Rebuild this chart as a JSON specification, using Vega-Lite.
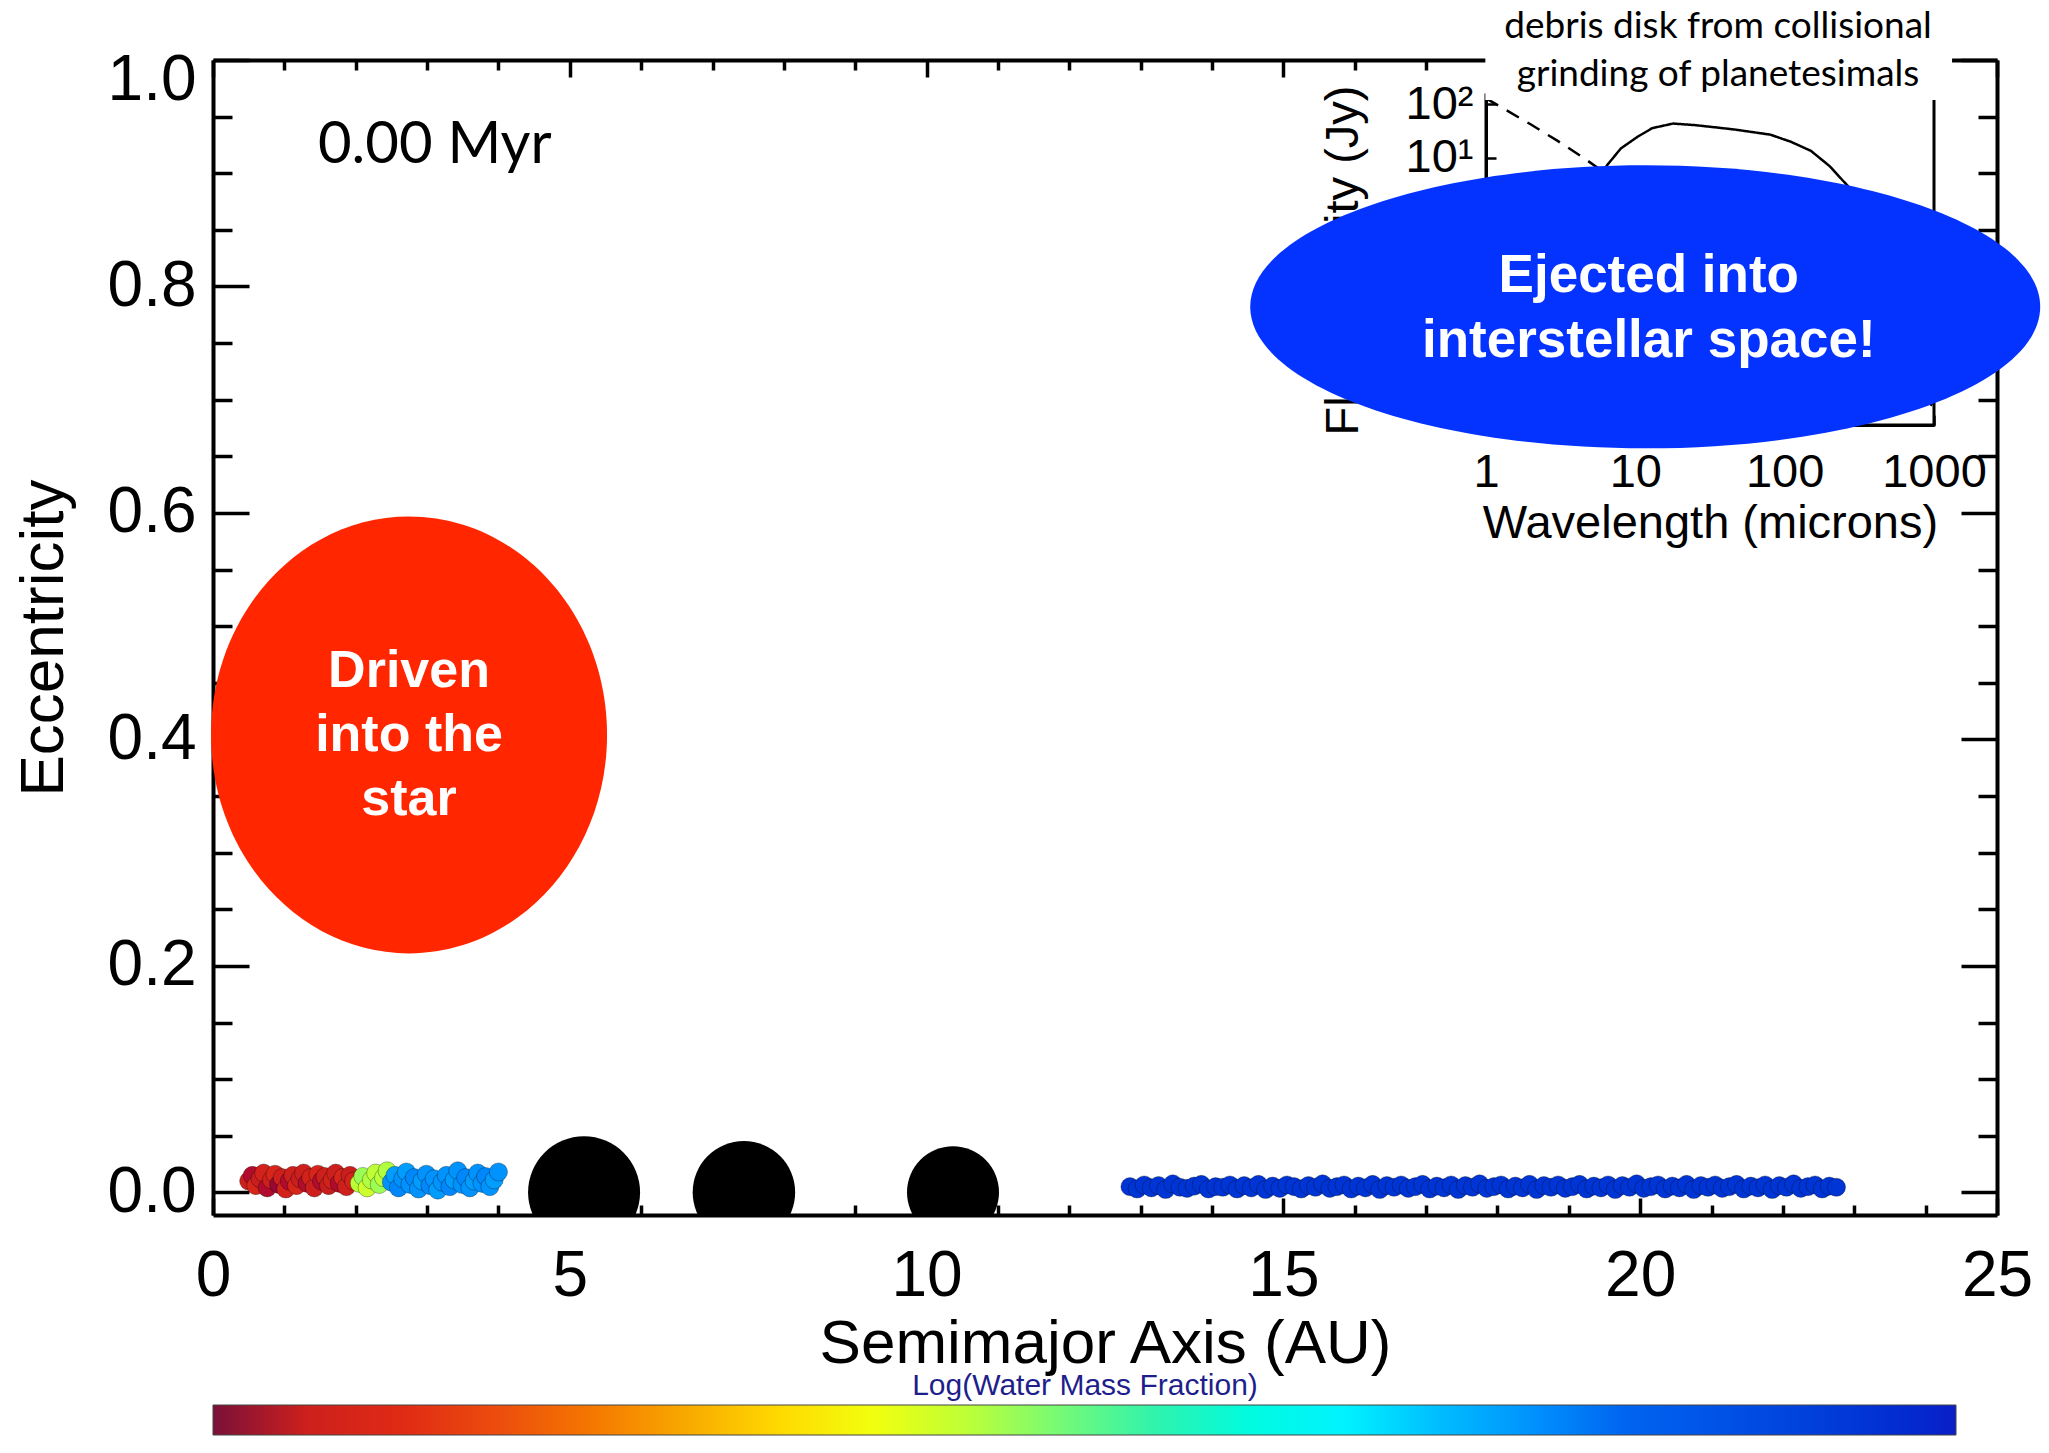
{
  "$schema": "https://vega.github.io/schema/vega-lite/v6.json",
  "width": 1784,
  "height": 1155,
  "autosize": {"type": "none"},
  "padding": {"left": 213, "top": 60, "right": 52, "bottom": 238},
  "background": "white",
  "config": {
    "view": {"stroke": null},
    "axis": {"grid": false, "domainColor": "black", "tickColor": "black", "labelColor": "black", "titleColor": "black", "labelFont": "Liberation Sans", "titleFont": "Liberation Sans", "titleFontWeight": "normal", "labelOverlap": false}
  },
  "datasets": {
    "dots": [
      {"a":0.50,"e":0.010,"w":-4.8},{"a":0.55,"e":0.015,"w":-4.9},{"a":0.60,"e":0.006,"w":-4.7},{"a":0.66,"e":0.012,"w":-4.85},{"a":0.71,"e":0.017,"w":-4.75},{"a":0.76,"e":0.004,"w":-4.9},{"a":0.82,"e":0.011,"w":-4.8},{"a":0.87,"e":0.016,"w":-4.7},{"a":0.92,"e":0.007,"w":-4.95},{"a":0.97,"e":0.013,"w":-4.8},{"a":1.02,"e":0.003,"w":-4.75},{"a":1.07,"e":0.010,"w":-4.9},{"a":1.12,"e":0.015,"w":-4.8},{"a":1.17,"e":0.006,"w":-4.7},{"a":1.22,"e":0.012,"w":-4.85},{"a":1.27,"e":0.017,"w":-4.8},{"a":1.32,"e":0.008,"w":-4.9},{"a":1.37,"e":0.013,"w":-4.75},{"a":1.42,"e":0.004,"w":-4.8},{"a":1.47,"e":0.016,"w":-4.7},{"a":1.52,"e":0.010,"w":-4.9},{"a":1.57,"e":0.014,"w":-4.8},{"a":1.62,"e":0.006,"w":-4.85},{"a":1.67,"e":0.011,"w":-4.75},{"a":1.72,"e":0.017,"w":-4.8},{"a":1.77,"e":0.008,"w":-4.9},{"a":1.82,"e":0.013,"w":-4.7},{"a":1.87,"e":0.005,"w":-4.8},{"a":1.92,"e":0.015,"w":-4.85},{"a":1.97,"e":0.010,"w":-4.75},
      {"a":2.05,"e":0.008,"w":-3.4},{"a":2.10,"e":0.014,"w":-3.3},{"a":2.16,"e":0.004,"w":-3.45},{"a":2.22,"e":0.011,"w":-3.35},{"a":2.28,"e":0.017,"w":-3.4},{"a":2.33,"e":0.007,"w":-3.3},{"a":2.39,"e":0.013,"w":-3.4},{"a":2.44,"e":0.019,"w":-3.35},
      {"a":2.50,"e":0.009,"w":-2.2},{"a":2.55,"e":0.015,"w":-2.25},{"a":2.60,"e":0.004,"w":-2.15},{"a":2.66,"e":0.012,"w":-2.2},{"a":2.71,"e":0.018,"w":-2.25},{"a":2.76,"e":0.007,"w":-2.2},{"a":2.82,"e":0.013,"w":-2.15},{"a":2.88,"e":0.003,"w":-2.2},{"a":2.93,"e":0.010,"w":-2.25},{"a":2.99,"e":0.016,"w":-2.2},{"a":3.04,"e":0.006,"w":-2.15},{"a":3.10,"e":0.012,"w":-2.2},{"a":3.15,"e":0.002,"w":-2.25},{"a":3.21,"e":0.009,"w":-2.2},{"a":3.27,"e":0.015,"w":-2.2},{"a":3.32,"e":0.005,"w":-2.15},{"a":3.38,"e":0.011,"w":-2.25},{"a":3.43,"e":0.019,"w":-2.2},{"a":3.49,"e":0.007,"w":-2.2},{"a":3.54,"e":0.013,"w":-2.15},{"a":3.60,"e":0.004,"w":-2.2},{"a":3.66,"e":0.010,"w":-2.25},{"a":3.71,"e":0.017,"w":-2.2},{"a":3.77,"e":0.008,"w":-2.2},{"a":3.82,"e":0.014,"w":-2.15},{"a":3.88,"e":0.005,"w":-2.2},{"a":3.94,"e":0.011,"w":-2.25},{"a":4.00,"e":0.018,"w":-2.2},
      {"a":12.85,"e":0.005,"w":-1.5},{"a":12.95,"e":0.003,"w":-1.5},{"a":13.05,"e":0.0065,"w":-1.5},{"a":13.15,"e":0.004,"w":-1.5},{"a":13.25,"e":0.006,"w":-1.5},{"a":13.35,"e":0.0025,"w":-1.5},{"a":13.45,"e":0.0075,"w":-1.5},{"a":13.55,"e":0.0045,"w":-1.5},{"a":13.65,"e":0.0035,"w":-1.5},{"a":13.75,"e":0.0055,"w":-1.5},
      {"a":13.85,"e":0.007,"w":-1.5},{"a":13.95,"e":0.003,"w":-1.5},{"a":14.05,"e":0.005,"w":-1.5},{"a":14.15,"e":0.0045,"w":-1.5},{"a":14.25,"e":0.0065,"w":-1.5},{"a":14.35,"e":0.003,"w":-1.5},{"a":14.45,"e":0.006,"w":-1.5},{"a":14.55,"e":0.004,"w":-1.5},{"a":14.65,"e":0.007,"w":-1.5},{"a":14.75,"e":0.0025,"w":-1.5},
      {"a":14.85,"e":0.0055,"w":-1.5},{"a":14.95,"e":0.0035,"w":-1.5},{"a":15.05,"e":0.0065,"w":-1.5},{"a":15.15,"e":0.005,"w":-1.5},{"a":15.25,"e":0.003,"w":-1.5},{"a":15.35,"e":0.006,"w":-1.5},{"a":15.45,"e":0.0045,"w":-1.5},{"a":15.55,"e":0.0075,"w":-1.5},{"a":15.65,"e":0.0035,"w":-1.5},{"a":15.75,"e":0.005,"w":-1.5},
      {"a":15.85,"e":0.0065,"w":-1.5},{"a":15.95,"e":0.003,"w":-1.5},{"a":16.05,"e":0.0055,"w":-1.5},{"a":16.15,"e":0.004,"w":-1.5},{"a":16.25,"e":0.007,"w":-1.5},{"a":16.35,"e":0.0025,"w":-1.5},{"a":16.45,"e":0.006,"w":-1.5},{"a":16.55,"e":0.0045,"w":-1.5},{"a":16.65,"e":0.0065,"w":-1.5},{"a":16.75,"e":0.0035,"w":-1.5},
      {"a":16.85,"e":0.005,"w":-1.5},{"a":16.95,"e":0.007,"w":-1.5},{"a":17.05,"e":0.003,"w":-1.5},{"a":17.15,"e":0.0055,"w":-1.5},{"a":17.25,"e":0.004,"w":-1.5},{"a":17.35,"e":0.0065,"w":-1.5},{"a":17.45,"e":0.0025,"w":-1.5},{"a":17.55,"e":0.006,"w":-1.5},{"a":17.65,"e":0.0045,"w":-1.5},{"a":17.75,"e":0.0075,"w":-1.5},
      {"a":17.85,"e":0.0035,"w":-1.5},{"a":17.95,"e":0.005,"w":-1.5},{"a":18.05,"e":0.0065,"w":-1.5},{"a":18.15,"e":0.003,"w":-1.5},{"a":18.25,"e":0.0055,"w":-1.5},{"a":18.35,"e":0.004,"w":-1.5},{"a":18.45,"e":0.007,"w":-1.5},{"a":18.55,"e":0.0025,"w":-1.5},{"a":18.65,"e":0.006,"w":-1.5},{"a":18.75,"e":0.0045,"w":-1.5},
      {"a":18.85,"e":0.0065,"w":-1.5},{"a":18.95,"e":0.0035,"w":-1.5},{"a":19.05,"e":0.005,"w":-1.5},{"a":19.15,"e":0.007,"w":-1.5},{"a":19.25,"e":0.003,"w":-1.5},{"a":19.35,"e":0.0055,"w":-1.5},{"a":19.45,"e":0.004,"w":-1.5},{"a":19.55,"e":0.0065,"w":-1.5},{"a":19.65,"e":0.0025,"w":-1.5},{"a":19.75,"e":0.006,"w":-1.5},
      {"a":19.85,"e":0.0045,"w":-1.5},{"a":19.95,"e":0.0075,"w":-1.5},{"a":20.05,"e":0.0035,"w":-1.5},{"a":20.15,"e":0.005,"w":-1.5},{"a":20.25,"e":0.0065,"w":-1.5},{"a":20.35,"e":0.003,"w":-1.5},{"a":20.45,"e":0.0055,"w":-1.5},{"a":20.55,"e":0.004,"w":-1.5},{"a":20.65,"e":0.007,"w":-1.5},{"a":20.75,"e":0.0025,"w":-1.5},
      {"a":20.85,"e":0.006,"w":-1.5},{"a":20.95,"e":0.0045,"w":-1.5},{"a":21.05,"e":0.0065,"w":-1.5},{"a":21.15,"e":0.0035,"w":-1.5},{"a":21.25,"e":0.005,"w":-1.5},{"a":21.35,"e":0.007,"w":-1.5},{"a":21.45,"e":0.003,"w":-1.5},{"a":21.55,"e":0.0055,"w":-1.5},{"a":21.65,"e":0.004,"w":-1.5},{"a":21.75,"e":0.0065,"w":-1.5},
      {"a":21.85,"e":0.0025,"w":-1.5},{"a":21.95,"e":0.006,"w":-1.5},{"a":22.05,"e":0.0045,"w":-1.5},{"a":22.15,"e":0.0075,"w":-1.5},{"a":22.25,"e":0.0035,"w":-1.5},{"a":22.35,"e":0.005,"w":-1.5},{"a":22.45,"e":0.0065,"w":-1.5},{"a":22.55,"e":0.003,"w":-1.5},{"a":22.65,"e":0.0055,"w":-1.5},{"a":22.75,"e":0.0045,"w":-1.5}
    ],
    "planets": [
      {"a": 5.20, "e": 0.0, "p": "b"},
      {"a": 7.44, "e": 0.0, "p": "c"},
      {"a": 10.37, "e": 0.0, "p": "d"}
    ],
    "sed": [
      {"lam": 1, "flux": 130, "comp": "star"},
      {"lam": 2, "flux": 42, "comp": "star"},
      {"lam": 3, "flux": 21, "comp": "star"},
      {"lam": 4.5, "flux": 10, "comp": "star"},
      {"lam": 7, "flux": 4.2, "comp": "star"},
      {"lam": 10, "flux": 2.1, "comp": "star"},
      {"lam": 20, "flux": 0.55, "comp": "star"},
      {"lam": 50, "flux": 0.09, "comp": "star"},
      {"lam": 100, "flux": 0.022, "comp": "star"},
      {"lam": 200, "flux": 0.0055, "comp": "star"},
      {"lam": 500, "flux": 0.0009, "comp": "star"},
      {"lam": 1000, "flux": 0.00022, "comp": "star"},
      {"lam": 3, "flux": 0.02, "comp": "disk"},
      {"lam": 4, "flux": 0.5, "comp": "disk"},
      {"lam": 5, "flux": 2.5, "comp": "disk"},
      {"lam": 6.5, "flux": 7.4, "comp": "disk"},
      {"lam": 8, "flux": 15, "comp": "disk"},
      {"lam": 10.4, "flux": 25, "comp": "disk"},
      {"lam": 13, "flux": 36, "comp": "disk"},
      {"lam": 17.9, "flux": 43.8, "comp": "disk"},
      {"lam": 25, "flux": 41, "comp": "disk"},
      {"lam": 35, "flux": 37, "comp": "disk"},
      {"lam": 46.5, "flux": 33.8, "comp": "disk"},
      {"lam": 80, "flux": 27.2, "comp": "disk"},
      {"lam": 110, "flux": 20, "comp": "disk"},
      {"lam": 150, "flux": 13.5, "comp": "disk"},
      {"lam": 200, "flux": 7, "comp": "disk"},
      {"lam": 270, "flux": 2.8, "comp": "disk"},
      {"lam": 400, "flux": 0.6, "comp": "disk"},
      {"lam": 600, "flux": 0.08, "comp": "disk"},
      {"lam": 900, "flux": 0.01, "comp": "disk"}
    ]
  },
  "layer": [
    {
      "layer": [
        {
          "data": {"name": "dots"},
          "mark": {"type": "point", "filled": true, "shape": "circle", "size": 330, "opacity": 1, "stroke": "#000000", "strokeWidth": 1, "strokeOpacity": 0.3},
          "encoding": {
            "x": {"field": "a", "type": "quantitative", "scale": {"domain": [0, 25], "nice": false, "zero": false},
              "axis": {"orient": "bottom", "values": [0, 5, 10, 15, 20, 25], "format": "d", "tickSize": -17, "tickWidth": 3.5, "domainWidth": 4, "labelFontSize": 64, "labelPadding": 46, "labelFlush": false, "title": "Semimajor Axis (AU)", "titleFontSize": 62, "titlePadding": 5}},
            "y": {"field": "e", "type": "quantitative", "scale": {"domain": [-0.02, 1], "nice": false, "zero": false},
              "axis": {"orient": "left", "values": [0, 0.2, 0.4, 0.6, 0.8, 1.0], "format": ".1f", "tickSize": -36, "tickWidth": 3.5, "domainWidth": 4, "labelFontSize": 64, "labelPadding": 53, "labelFlush": true, "labelFlushOffset": 12, "title": "Eccentricity", "titleFontSize": 62, "titlePadding": 32}},
            "color": {"field": "w", "type": "quantitative",
              "scale": {"domain": [-5, -4.85, -4.6, -4.3, -4.0, -3.65, -3.35, -3.05, -2.65, -2.35, -2.0, -1.3],
                        "range": ["#7a1038", "#c81e1e", "#e02a14", "#f25a0a", "#f8a800", "#ffff00", "#b0ff40", "#40f0a0", "#00ffff", "#00b0ff", "#0064f0", "#0a1ec8"]},
              "legend": {"orient": "none", "legendX": 0, "legendY": 1311, "direction": "horizontal", "gradientLength": 1743, "gradientThickness": 30, "title": "Log(Water Mass Fraction)", "titleFontSize": 30, "titleFont": "Liberation Sans", "titleColor": "#1f1f8c", "titleFontWeight": "normal", "titleAnchor": "middle", "titleLimit": 2000, "titlePadding": 4, "labelExpr": "''", "labelFontSize": 1, "gradientStrokeColor": "#444444", "gradientStrokeWidth": 1, "padding": 0}}
          }
        },
        {
          "data": {"name": "planets"},
          "mark": {"type": "point", "filled": true, "shape": "circle", "color": "black", "opacity": 1, "clip": true},
          "encoding": {
            "x": {"field": "a", "type": "quantitative"},
            "y": {"field": "e", "type": "quantitative"},
            "size": {"field": "p", "type": "nominal", "scale": {"domain": ["b", "c", "d"], "range": [12544, 8464, 10201]}, "legend": null}
          }
        },
        {
          "data": {"values": [{"a": 2.747, "e": 0.404}]},
          "mark": {"type": "point", "filled": true, "opacity": 1, "color": "#ff2600", "strokeWidth": 0, "size": 156816,
            "shape": "M 1 0 C 1 0.6095 0.5523 1.1035 0 1.1035 C -0.5523 1.1035 -1 0.6095 -1 0 C -1 -0.6095 -0.5523 -1.1035 0 -1.1035 C 0.5523 -1.1035 1 -0.6095 1 0 Z"},
          "encoding": {"x": {"field": "a", "type": "quantitative"}, "y": {"field": "e", "type": "quantitative"}}
        },
        {
          "data": {"values": [{"a": 2.747, "e": 0.404, "t": "Driven\ninto the\nstar"}]},
          "mark": {"type": "text", "font": "Liberation Sans", "fontWeight": "bold", "fontSize": 52, "lineHeight": 64, "lineBreak": "\n", "color": "white", "align": "center", "baseline": "middle", "dy": -64},
          "encoding": {"x": {"field": "a", "type": "quantitative"}, "y": {"field": "e", "type": "quantitative"}, "text": {"field": "t"}}
        },
        {
          "data": {"values": [{"a": 1.471, "e": 0.909, "t": "0.00 Myr"}]},
          "mark": {"type": "text", "font": "Lato", "fontSize": 58, "color": "black", "align": "left", "baseline": "alphabetic"},
          "encoding": {"x": {"field": "a", "type": "quantitative"}, "y": {"field": "e", "type": "quantitative"}, "text": {"field": "t"}}
        }
      ]
    },
    {
      "data": {"values": [{"d": 0}]},
      "mark": {"type": "point", "opacity": 0},
      "encoding": {
        "x": {"field": "d", "type": "quantitative", "scale": {"domain": [0, 25], "nice": false, "zero": false},
          "axis": {"orient": "bottom", "values": [1,2,3,4,6,7,8,9,11,12,13,14,16,17,18,19,21,22,23,24], "tickSize": -10, "tickWidth": 3.5, "labels": false, "domain": false, "title": null}},
        "y": {"field": "d", "type": "quantitative", "scale": {"domain": [-0.02, 1], "nice": false, "zero": false},
          "axis": {"orient": "left", "values": [0.05,0.1,0.15,0.25,0.3,0.35,0.45,0.5,0.55,0.65,0.7,0.75,0.85,0.9,0.95], "tickSize": -19, "tickWidth": 3.5, "labels": false, "domain": false, "title": null}}
      }
    },
    {
      "data": {"values": [{"d": 0}]},
      "mark": {"type": "point", "opacity": 0},
      "encoding": {
        "x": {"field": "d", "type": "quantitative", "scale": {"domain": [0, 25], "nice": false, "zero": false},
          "axis": {"orient": "top", "values": [0, 5, 10, 15, 20, 25], "tickSize": -17, "tickWidth": 3.5, "domainWidth": 4, "labels": false, "title": null}},
        "y": {"field": "d", "type": "quantitative", "scale": {"domain": [-0.02, 1], "nice": false, "zero": false},
          "axis": {"orient": "right", "values": [0, 0.2, 0.4, 0.6, 0.8, 1.0], "tickSize": -36, "tickWidth": 3.5, "domainWidth": 4, "labels": false, "title": null}}
      }
    },
    {
      "data": {"values": [{"d": 0}]},
      "mark": {"type": "point", "opacity": 0},
      "encoding": {
        "x": {"field": "d", "type": "quantitative", "scale": {"domain": [0, 25], "nice": false, "zero": false},
          "axis": {"orient": "top", "values": [1,2,3,4,6,7,8,9,11,12,13,14,16,17,18,19,21,22,23,24], "tickSize": -10, "tickWidth": 3.5, "labels": false, "domain": false, "title": null}},
        "y": {"field": "d", "type": "quantitative", "scale": {"domain": [-0.02, 1], "nice": false, "zero": false},
          "axis": {"orient": "right", "values": [0.05,0.1,0.15,0.25,0.3,0.35,0.45,0.5,0.55,0.65,0.7,0.75,0.85,0.9,0.95], "tickSize": -19, "tickWidth": 3.5, "labels": false, "domain": false, "title": null}}
      }
    },
    {
      "layer": [
        {
          "data": {"values": [{"lam": 1, "lam2": 1000, "flux": 0.0001, "flux2": 150}]},
          "mark": {"type": "rect", "fillOpacity": 0, "stroke": "black", "strokeWidth": 3},
          "encoding": {
            "x": {"field": "lam", "type": "quantitative", "scale": {"type": "log", "domain": [1, 1000], "range": [1273, 1721], "nice": false},
              "axis": {"orient": "bottom", "offset": -790, "values": [1, 10, 100, 1000], "format": "d", "tickSize": -10, "tickWidth": 2.5, "domainWidth": 3, "labelFontSize": 47, "labelPadding": 34, "labelFlush": false, "title": "Wavelength (microns)", "titleFontSize": 47, "titlePadding": 5}},
            "x2": {"field": "lam2"},
            "y": {"field": "flux", "type": "quantitative", "scale": {"type": "log", "domain": [0.0001, 150], "range": [365, 35], "nice": false},
              "axis": {"orient": "left", "offset": -1273, "values": [0.0001, 0.001, 0.01, 0.1, 1, 10, 100], "labelExpr": "datum.value == 100 ? '10²' : datum.value == 10 ? '10¹' : ''", "tickSize": -10, "tickWidth": 2.5, "domainWidth": 3, "labelFontSize": 47, "labelPadding": 23, "labelFlush": false, "title": "Flux Density (Jy)", "titleFontSize": 47, "titlePadding": 38}},
            "y2": {"field": "flux2"}
          }
        },
        {
          "data": {"name": "sed"},
          "mark": {"type": "line", "color": "black", "strokeWidth": 2.5},
          "encoding": {
            "x": {"field": "lam", "type": "quantitative"},
            "y": {"field": "flux", "type": "quantitative"},
            "strokeDash": {"field": "comp", "type": "nominal", "scale": {"domain": ["disk", "star"], "range": [[1, 0], [14, 10]]}, "legend": null}
          }
        }
      ]
    },
    {
      "layer": [
        {
          "data": {"values": [{"a": 20.07, "e": 0.782}]},
          "mark": {"type": "point", "filled": true, "opacity": 1, "color": "#0433ff", "strokeWidth": 0, "size": 624100,
            "shape": "M 1 0 C 1 0.1978 0.5523 0.3582 0 0.3582 C -0.5523 0.3582 -1 0.1978 -1 0 C -1 -0.1978 -0.5523 -0.3582 0 -0.3582 C 0.5523 -0.3582 1 -0.1978 1 0 Z"},
          "encoding": {
            "x": {"field": "a", "type": "quantitative", "scale": {"domain": [0, 25], "nice": false, "zero": false}, "axis": null},
            "y": {"field": "e", "type": "quantitative", "scale": {"domain": [-0.02, 1], "nice": false, "zero": false}, "axis": null}
          }
        },
        {
          "data": {"values": [{"a": 20.12, "e": 0.782, "t": "Ejected into\ninterstellar space!"}]},
          "mark": {"type": "text", "font": "Liberation Sans", "fontWeight": "bold", "fontSize": 53, "lineHeight": 65, "lineBreak": "\n", "color": "white", "align": "center", "baseline": "middle", "dy": -31},
          "encoding": {
            "x": {"field": "a", "type": "quantitative", "axis": null},
            "y": {"field": "e", "type": "quantitative", "axis": null},
            "text": {"field": "t"}
          }
        },
        {
          "data": {"values": [{"a1": 17.83, "a2": 24.37, "e1": 0.9647, "e2": 1.053}]},
          "mark": {"type": "rect", "color": "white", "opacity": 1},
          "encoding": {
            "x": {"field": "a1", "type": "quantitative", "axis": null},
            "x2": {"field": "a2"},
            "y": {"field": "e1", "type": "quantitative", "axis": null},
            "y2": {"field": "e2"}
          }
        },
        {
          "data": {"values": [{"a": 21.09, "e": 1.0192, "t": "debris disk from collisional\ngrinding of planetesimals"}]},
          "mark": {"type": "text", "font": "Lato", "fontSize": 37, "lineHeight": 48, "lineBreak": "\n", "color": "black", "align": "center", "baseline": "alphabetic"},
          "encoding": {
            "x": {"field": "a", "type": "quantitative", "axis": null},
            "y": {"field": "e", "type": "quantitative", "axis": null},
            "text": {"field": "t"}
          }
        }
      ]
    }
  ],
  "resolve": {"scale": {"x": "independent", "y": "independent"}}
}
